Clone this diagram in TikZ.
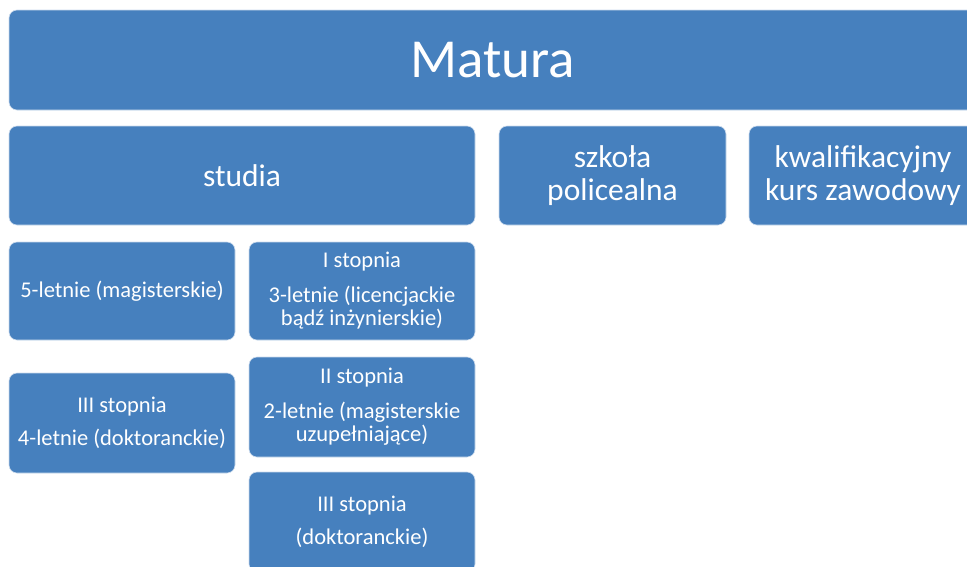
\documentclass[tikz,border=0pt]{standalone}
\usepackage{fontspec}
\setmainfont{Carlito}
\definecolor{boxblue}{RGB}{70,128,190}
\definecolor{boxedge}{RGB}{205,220,238}
\begin{document}
\begin{tikzpicture}[x=1pt,y=-1pt,
  box/.style={fill=boxblue, draw=boxedge, line width=0.6pt, rounded corners=8pt,
    text=white, align=center, inner sep=0pt},
  big/.style={font=\fontsize{55}{64}\selectfont},
  mid/.style={font=\fontsize{31.5}{33}\selectfont},
  small/.style={font=\fontsize{22.5}{23}\selectfont}]
\clip (0,0) rectangle (967,566);
\fill[white] (0,0) rectangle (967,566);
\node[box, big, minimum width=967pt, minimum height=100pt] (matura) at (492.5,60) {Matura};
\node[box, mid, minimum width=466pt, minimum height=99pt] (studia) at (242,175.5) {studia};
\node[box, mid, minimum width=227pt, minimum height=99pt] (szkola) at (612.5,175.5) {szkoła\\policealna};
\node[box, mid, minimum width=228pt, minimum height=99pt] (kurs) at (863,175.5) {kwalifikacyjny\\kurs zawodowy};
\node[box, small, minimum width=226pt, minimum height=98pt] (piec) at (122,291) {5-letnie (magisterskie)};
\node[box, small, minimum width=226pt, minimum height=98pt] (pierwszy) at (362,291) {I stopnia\\[12pt]3-letnie (licencjackie\\bądź inżynierskie)};
\node[box, small, minimum width=226pt, minimum height=100pt] (trzecilewy) at (122,423) {III stopnia\\[10pt]4-letnie (doktoranckie)};
\node[box, small, minimum width=226pt, minimum height=100pt] (drugi) at (362,407) {II stopnia\\[12pt]2-letnie (magisterskie\\uzupełniające)};
\node[box, small, minimum width=226pt, minimum height=100pt] (trzeciprawy) at (362,522) {III stopnia\\[10pt](doktoranckie)};
\end{tikzpicture}
\end{document}
